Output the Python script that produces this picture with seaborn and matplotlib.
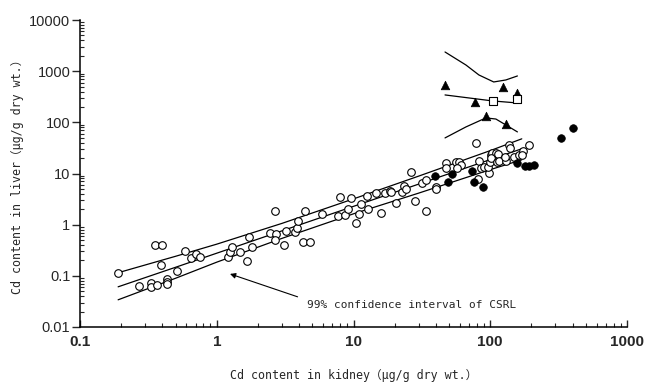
import numpy as np
import pandas as pd
import matplotlib
matplotlib.use('Agg')
import matplotlib.pyplot as plt
import seaborn as sns
from matplotlib.ticker import LogLocator, FuncFormatter, NullFormatter

# Open circles (kidney, liver)
open_kidney = [0.190, 0.271, 0.332, 0.332, 0.366, 0.355, 0.399, 0.393, 0.434, 0.434,
               0.434, 0.513, 0.586, 0.649, 0.707, 0.755, 1.21, 1.25, 1.29, 1.48,
               1.66, 1.72, 1.80, 2.44, 2.65, 2.70, 2.65, 3.08, 3.19, 3.71,
               3.84, 3.90, 4.25, 4.77, 4.39, 5.93, 7.64, 8.03, 8.73, 9.18,
               9.66, 10.5, 11.0, 11.4, 12.6, 12.8, 14.7, 16.0, 17.1, 18.6,
               18.9, 20.5, 22.7, 23.5, 24.3, 26.4, 28.2, 31.8, 34.0, 34.0,
               40.2, 40.2, 47.5, 47.5, 56.1, 59.0, 61.1, 57.1, 78.5, 81.3,
               82.6, 85.4, 89.8, 97.7, 96.1, 99.3, 101, 103, 110, 114,
               101, 112, 116, 130, 128, 137, 139, 149, 162, 173,
               170, 191]
open_liver = [0.115, 0.0638, 0.0730, 0.0610, 0.0667, 0.403, 0.403, 0.164, 0.0873, 0.0764,
              0.0698, 0.125, 0.308, 0.225, 0.269, 0.235, 0.235, 0.294, 0.368, 0.294,
              0.196, 0.578, 0.368, 0.692, 1.86, 0.661, 0.505, 0.403, 0.757, 0.723,
              0.865, 1.19, 0.461, 0.461, 1.86, 1.63, 1.49, 3.49, 1.55, 2.04,
              3.34, 1.08, 1.63, 2.55, 3.65, 2.04, 4.18, 1.70, 4.18, 4.57,
              4.37, 2.67, 4.37, 5.73, 5.00, 10.7, 2.92, 6.55, 7.50, 1.86,
              5.47, 5.00, 16.1, 12.9, 16.9, 16.9, 14.7, 12.9, 39.6, 7.85,
              17.6, 12.9, 13.5, 10.3, 13.5, 16.9, 23.1, 25.3, 25.3, 24.2,
              20.2, 16.9, 17.6, 17.6, 21.1, 36.2, 31.6, 21.1, 23.1, 27.6,
              23.1, 36.2]

# Filled circles
filled_kidney = [39.5, 52.5, 49.1, 73.5, 75.9, 88.3, 156, 179, 191, 208, 327, 400]
filled_liver = [8.98, 9.82, 6.86, 11.2, 6.86, 5.47, 16.1, 14.1, 14.1, 14.7, 49.6, 77.8]

# Filled triangles and open squares
tri_kidney = [46.7, 123, 77, 158, 93, 130]
tri_liver = [537, 490, 251, 375, 133, 93]
sq_kidney = [105, 158]
sq_liver = [262, 286]

# CSRL and its 99% confidence interval
csrl_x = [0.19, 0.5, 1, 3, 10, 30, 100, 170]
csrl_mid = [0.0610, 0.147, 0.277, 0.757, 2.28, 6.21, 18.7, 30.4]
csrl_up = [0.115, 0.241, 0.416, 1.06, 3.19, 8.90, 28.0, 47.6]
csrl_lo = [0.0340, 0.0897, 0.185, 0.540, 1.63, 4.14, 11.9, 18.5]

# Regression line and band for the triangle group
tri_line_x = [46.7, 104, 158]
tri_line_y = [343, 262, 239]
tri_up_x = [46.7, 66.4, 82.6, 106, 130, 158]
tri_up_y = [2370, 1320, 843, 615, 673, 806]
tri_lo_x = [46.7, 66.4, 92.9, 110, 130, 158]
tri_lo_y = [49.6, 81.3, 122, 116, 88.9, 65.0]

sns.set_style('ticks')
mono = ['DejaVu Sans Mono', 'Noto Sans CJK JP']

fig = plt.figure(figsize=(6.48, 3.87), dpi=100)
ax = fig.add_axes([80 / 648, 60 / 387, 547 / 648, 307 / 387])

lw = 0.9
for xs, ys in [(csrl_x, csrl_mid), (csrl_x, csrl_up), (csrl_x, csrl_lo),
               (tri_line_x, tri_line_y), (tri_up_x, tri_up_y), (tri_lo_x, tri_lo_y)]:
    sns.lineplot(x=xs, y=ys, ax=ax, color='black', linewidth=lw, sort=False,
                 estimator=None, legend=False)

sns.scatterplot(x=open_kidney, y=open_liver, ax=ax, marker='o', s=30,
                facecolor='white', edgecolor='black', linewidth=0.8, zorder=3)
sns.scatterplot(x=filled_kidney, y=filled_liver, ax=ax, marker='o', s=30,
                color='black', edgecolor='black', linewidth=0.5, zorder=4)
sns.scatterplot(x=tri_kidney, y=tri_liver, ax=ax, marker='^', s=38,
                color='black', edgecolor='black', linewidth=0.5, zorder=4)
sns.scatterplot(x=sq_kidney, y=sq_liver, ax=ax, marker='s', s=30,
                facecolor='white', edgecolor='black', linewidth=0.8, zorder=4)

ax.set_xscale('log')
ax.set_yscale('log')
ax.set_xlim(0.1, 1000)
ax.set_ylim(0.01, 10000)

for side in ['top', 'right']:
    ax.spines[side].set_visible(False)
for side in ['left', 'bottom']:
    ax.spines[side].set_linewidth(1.1)
    ax.spines[side].set_color('black')

fmt = FuncFormatter(lambda v, p: f'{v:g}')
for axis in [ax.xaxis, ax.yaxis]:
    axis.set_major_locator(LogLocator(base=10, numticks=10))
    axis.set_minor_locator(LogLocator(base=10, subs=np.arange(2, 10), numticks=10))
    axis.set_major_formatter(fmt)
    axis.set_minor_formatter(NullFormatter())

ax.tick_params(axis='x', which='major', direction='in', length=5, width=1, pad=6)
ax.tick_params(axis='x', which='minor', direction='in', length=3, width=0.8)
ax.tick_params(axis='y', which='major', direction='out', length=6, width=1, pad=1)
ax.tick_params(axis='y', which='minor', direction='in', length=3, width=0.8)
for lab in ax.get_xticklabels():
    lab.set_fontfamily('Liberation Sans')
    lab.set_fontsize(11)
    lab.set_fontweight('bold')
for lab in ax.get_yticklabels():
    lab.set_fontfamily('Liberation Sans')
    lab.set_fontsize(10.5)

ax.set_xlabel('Cd content in kidney（μg/g dry wt.）', family=mono, fontsize=8.4, labelpad=14)
ax.set_ylabel('Cd content in liver（μg/g dry wt.）', family=mono, fontsize=8.4, labelpad=4)

ax.annotate('', xy=(1.25, 0.109), xytext=(3.90, 0.0389),
            arrowprops=dict(arrowstyle='-|>', color='black', lw=0.8,
                            mutation_scale=8, shrinkA=0, shrinkB=0))
ax.text(4.54, 0.0272, '99% confidence interval of CSRL', family=mono, fontsize=8,
        ha='left', va='center')

fig.savefig('out.png', dpi=100)
plt.close(fig)
